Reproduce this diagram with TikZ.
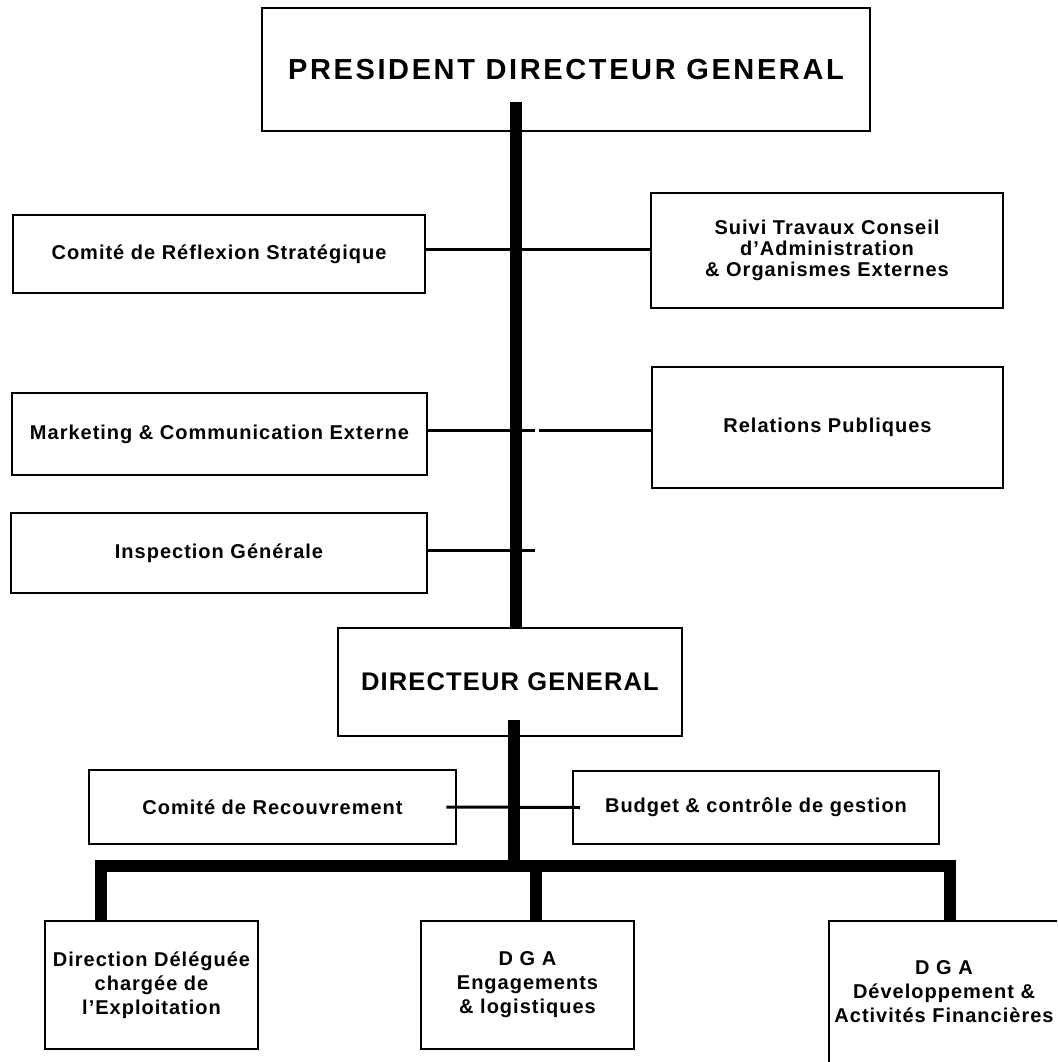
\documentclass[tikz,border=0pt]{standalone}
\usepackage{fontspec}
\setmainfont{Liberation Sans}[LetterSpace=5]
\newfontfamily\titrefont{Liberation Sans}[LetterSpace=9]
\newfontfamily\dgfont{Liberation Sans}[LetterSpace=4.5]
\usepackage{tikz}
\usetikzlibrary{calc}
\tikzset{
	boite/.style={draw,line width=2.5pt,inner sep=0pt,align=center,font=\bfseries\fontsize{20}{24}\selectfont},
	lien/.style={line width=3pt},
	tronc/.style={line width=12pt}
}

\begin{document}
\begin{tikzpicture}[x=1pt,y=-1pt]
				\clip (0,0) rectangle (1057,1062); % cadre de l'image
				\fill[white] (0,0) rectangle (1057,1062);
				
				%Direction
				\node[boite,minimum width=608pt,minimum height=123pt,font=\titrefont\bfseries\fontsize{29}{34}\selectfont] (pdg) at (566,69.5) {PRESIDENT DIRECTEUR GENERAL};
				\node[boite,minimum width=344pt,minimum height=108pt,font=\dgfont\bfseries\fontsize{25.5}{30}\selectfont] (dg) at (510,682) {DIRECTEUR GENERAL};
				
				%Rattachements au PDG
				\node[boite,minimum width=412pt,minimum height=78pt] (comite) at (219,254) {Comité de Réflexion Stratégique};
				\node[boite,minimum width=352pt,minimum height=115pt,font=\bfseries\fontsize{20}{21}\selectfont] (suivi) at (827,250.5) {Suivi Travaux Conseil\\d’Administration\\\& Organismes Externes};
				\node[boite,minimum width=415pt,minimum height=82pt] (mkt) at (219.5,434) {Marketing \& Communication Externe};
				\node[boite,minimum width=351pt,minimum height=121pt] (rel) at (827.5,427.5) {Relations Publiques};
				\node[boite,minimum width=416pt,minimum height=80pt] (insp) at (219,553) {Inspection Générale};
				
				%Rattachements au DG
				\node[boite,minimum width=367pt,minimum height=74pt] (recouv) at (272.5,807) {Comité de Recouvrement};
				\node[boite,minimum width=366pt,minimum height=73pt] (budget) at (756,807.5) {Budget \& contrôle de gestion};
				
				%DGA
				\node[boite,minimum width=213pt,minimum height=128pt] (dirdel) at (151.5,985) {Direction Déléguée\\chargée de\\l’Exploitation};
				\node[boite,minimum width=213pt,minimum height=128pt] (dgaeng) at (527.5,985) {D G A\\Engagements\\\& logistiques};
				\node[boite,minimum width=230pt,minimum height=142pt] (dgadev) at (944,992) {D G A\\Développement \&\\Activités Financières};
				
				%Points d'attache
				\coordinate (pdgpied) at (516,102);
				\coordinate (comlien) at (516,249);
				\coordinate (mktfin) at (535,430);
				\coordinate (relfin) at (539,430);
				\coordinate (inspfin) at (535,550);
				\coordinate (dgpied) at (514,720);
				\coordinate (busG) at (101,866);
				\coordinate (busM) at (536,866);
				\coordinate (busD) at (950,866);
				
				%Tronc principal
				\draw[tronc] (pdgpied) -- (pdgpied |- dg.north);
				\draw[lien] (comite.east |- comlien) -- (suivi.west |- comlien);
				\draw[lien] (mkt.east |- mktfin) -- (mktfin);
				\draw[lien] (relfin) -- (rel.west |- relfin);
				\draw[lien] (insp.east |- inspfin) -- (inspfin);
				
				%Sous le DG
				\draw[tronc] (dgpied) -- (dgpied |- busG);
				\draw[lien] ([xshift=-11pt]recouv.east) -- ([xshift=8pt]budget.west);
				\draw[tronc] (busG |- dirdel.north) -- (busG) -- (busD) -- (busD |- dgadev.north);
				\draw[tronc] (busM) -- (busM |- dgaeng.north);
				
\end{tikzpicture}
\end{document}
